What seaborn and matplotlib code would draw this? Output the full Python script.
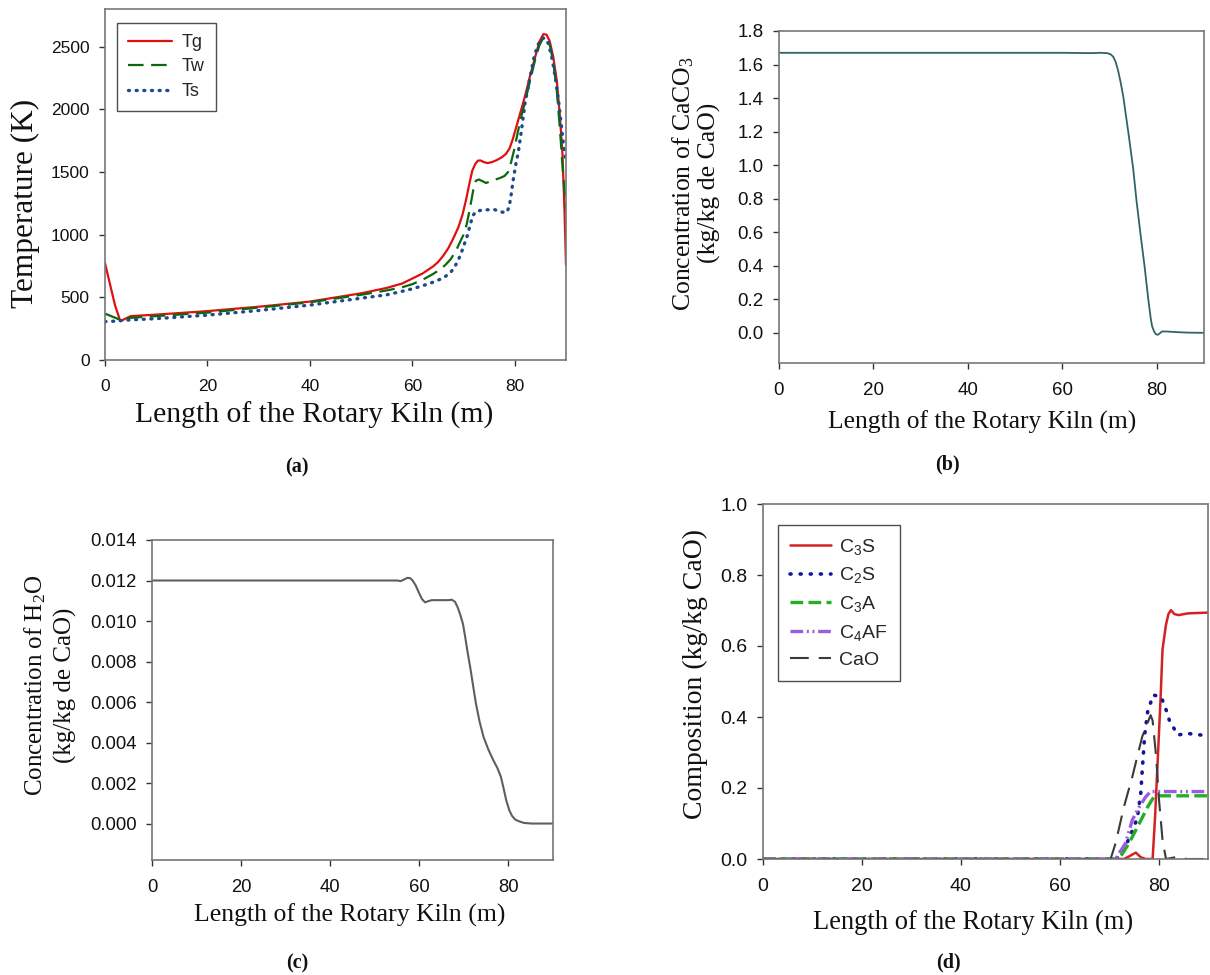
import matplotlib
matplotlib.use("Agg")
import matplotlib.pyplot as plt
import seaborn as sns
from matplotlib.ticker import FormatStrFormatter

# ---------------------------------------------------------------
# data (x = length of the kiln, m)
# ---------------------------------------------------------------
# (a) temperatures, K
tg_x = [0, 1, 2, 3, 4, 5, 10, 20, 30, 40, 50, 55, 58, 60, 62, 64, 65, 66, 67,
        68, 69, 69.8, 70.5, 71.1, 71.7, 72.3, 72.8, 73.3, 74, 74.7, 75.5, 76.5,
        77.5, 78.3, 79, 79.6, 80.3, 81, 82, 83, 84, 84.8, 85.6, 86.2, 86.8,
        87.5, 88.2, 88.8, 89.3, 89.7, 90]
tg_y = [773, 600, 430, 310, 330, 350, 362, 390, 425, 466, 532, 575, 610, 650,
        690, 745, 780, 830, 890, 970, 1060, 1160, 1280, 1400, 1510, 1565, 1590,
        1592, 1578, 1571, 1578, 1595, 1618, 1645, 1690, 1760, 1860, 1960, 2105,
        2270, 2420, 2540, 2600, 2595, 2545, 2420, 2230, 1950, 1650, 1200, 760]

tw_x = [0, 1.5, 3, 4.5, 10, 20, 30, 40, 50, 55, 58, 60, 62, 64, 65.5, 66.5,
        67.5, 68.5, 69.3, 70, 70.6, 71.1, 71.6, 72.0, 72.4, 73, 73.6, 74.4,
        75.5, 77, 78, 78.7, 79.3, 79.9, 80.5, 81.2, 82, 83, 84, 84.8, 85.5,
        86.2, 86.8, 87.5, 88.2, 88.8, 89.4, 90]
tw_y = [370, 345, 320, 335, 350, 378, 418, 460, 520, 555, 580, 605, 640, 685,
        725, 760, 805, 870, 940, 1000, 1080, 1180, 1290, 1380, 1430, 1440, 1428,
        1412, 1430, 1450, 1468, 1500, 1580, 1680, 1800, 1930, 2060, 2230, 2400,
        2510, 2565, 2570, 2520, 2380, 2150, 1850, 1500, 1200]

ts_x = [0, 2, 4, 10, 20, 30, 40, 50, 55, 58, 60, 62, 64, 65.5, 66.5, 67.5,
        68.3, 69, 69.6, 70.2, 70.8, 71.3, 71.8, 72.4, 73.5, 74.5, 76, 77.5,
        78.4, 78.9, 79.3, 79.7, 80.2, 80.7, 81.3, 82, 83, 83.8, 84.6, 85.4, 86,
        86.6, 87.3, 88, 88.6, 89.2, 89.6, 90]
ts_y = [306, 310, 318, 330, 358, 395, 438, 493, 520, 548, 568, 592, 620, 645,
        668, 700, 745, 800, 860, 930, 1000, 1080, 1150, 1185, 1195, 1198, 1200,
        1180, 1176, 1220, 1320, 1438, 1560, 1660, 1830, 2050, 2260, 2423, 2520,
        2569, 2565, 2520, 2400, 2230, 2050, 1830, 1690, 1580]

# (b) CaCO3, kg/kg CaO
caco3_x = [0, 10, 20, 30, 40, 50, 60, 66, 68, 69.5, 70.3, 70.8, 71.3, 71.8,
           72.3, 72.9, 73.5, 74.1, 75, 75.7, 76.5, 77.4, 78.2, 78.7, 79.0, 79.4,
           79.8, 80.2, 80.6, 81.1, 82, 83.1, 85, 87, 90]
caco3_y = [1.67, 1.67, 1.67, 1.67, 1.67, 1.67, 1.67, 1.668, 1.67, 1.668, 1.66,
           1.645, 1.615, 1.565, 1.50, 1.41, 1.29, 1.17, 0.98, 0.79, 0.60, 0.40,
           0.20, 0.09, 0.04, 0.01, -0.008, -0.012, -0.004, 0.008, 0.008, 0.006,
           0.003, 0.001, 0.0]

# (c) H2O, kg/kg CaO
h2o_x = [0, 10, 20, 30, 40, 50, 55, 55.8, 56.6, 57.3, 57.9, 58.5, 59.2, 59.9,
         60.6, 61.3, 62, 62.8, 64, 66.5, 67.3, 68, 68.6, 69.2, 69.8, 70.3, 70.8,
         71.4, 72, 72.7, 73.5, 74.4, 75.5, 76.6, 77.5, 78.3, 78.9, 79.5, 80.2,
         80.8, 81.5, 82.5, 83.5, 85.2, 90]
h2o_y = [0.0120, 0.0120, 0.0120, 0.0120, 0.0120, 0.0120, 0.01200, 0.01197,
         0.01205, 0.01213, 0.01212, 0.01200, 0.01175, 0.01140, 0.01108,
         0.01092, 0.01098, 0.01103, 0.01103, 0.01103, 0.01105, 0.01095,
         0.01068, 0.01030, 0.00985, 0.00920, 0.00850, 0.00774, 0.00690,
         0.00593, 0.00505, 0.00428, 0.00365, 0.00313, 0.00275, 0.00231,
         0.00175, 0.00115, 0.00065, 0.00038, 0.00020, 0.00010, 0.00003, 0.0,
         0.0]

# (d) clinker composition, kg/kg CaO
c3s_x = [0, 73, 74, 75.4, 76.4, 77.4, 78.8, 79.3, 79.8, 80.4, 80.8, 81.5, 82.0,
         82.5, 83.2, 84.0, 86, 90]
c3s_y = [0, 0, 0.007, 0.018, 0.005, 0, 0, 0.12, 0.27, 0.45, 0.59, 0.66, 0.69,
         0.701, 0.69, 0.687, 0.692, 0.694]
c2s_x = [0, 71.5, 73.3, 74.7, 75.7, 76.4, 76.7, 77.2, 77.8, 78.9, 80.5, 81.3,
         82.2, 83.9, 85.6, 90]
c2s_y = [0, 0, 0.035, 0.08, 0.115, 0.185, 0.25, 0.35, 0.415, 0.462, 0.457,
         0.43, 0.39, 0.349, 0.354, 0.347]
c3a_x = [0, 72, 74, 76.1, 77.8, 79.1, 80.1, 85, 90]
c3a_y = [0, 0, 0.044, 0.10, 0.147, 0.176, 0.178, 0.178, 0.178]
c4af_x = [0, 71.3, 73.3, 74.7, 76.1, 77.4, 78.4, 80, 85, 90]
c4af_y = [0, 0, 0.044, 0.11, 0.147, 0.175, 0.19, 0.19, 0.19, 0.19]
cao_x = [0, 70.3, 71.3, 73.0, 74.7, 76.7, 78.4, 78.8, 79.5, 80.1, 80.8, 81.5,
         84.2, 85.6, 90]
cao_y = [0, 0, 0.044, 0.147, 0.232, 0.345, 0.405, 0.39, 0.29, 0.166, 0.054, 0,
         0.007, 0, 0]

# ---------------------------------------------------------------
sns.set_theme(style="white")
plt.rcParams["font.family"] = ["Liberation Sans", "DejaVu Sans"]
SERIF = ["Liberation Serif", "DejaVu Serif"]

W, H = 1210, 975
fig = plt.figure(figsize=(W / 100, H / 100), dpi=100)
fig.patch.set_facecolor("white")


def box(l, r, t, b):
    return [l / W, 1 - b / H, (r - l) / W, (b - t) / H]


def style_axes(ax, tick_size):
    for s in ax.spines.values():
        s.set_color("#777777")
        s.set_linewidth(1.2)
    ax.tick_params(axis="both", which="both", direction="out", length=4,
                   width=1, color="#333333", labelsize=tick_size,
                   labelcolor="#111111", bottom=True, left=True,
                   top=False, right=False)
    ax.tick_params(axis="x", pad=10)
    ax.tick_params(axis="y", pad=7)
    ax.set_xlim(0, 90)
    ax.set_xticks([0, 20, 40, 60, 80])
    ax.set_xlabel("")
    ax.set_ylabel("")
    ax.grid(False)


def txt(x, y, s, size, rot=0, bold=False, ls=1.2):
    fig.text(x / W, 1 - y / H, s, ha="center", va="center", rotation=rot,
             fontsize=size, family=SERIF, fontweight="bold" if bold else "normal",
             linespacing=ls, multialignment="center", color="#111111")


def boxed_legend(ax, anchor, size, hl, tp, sp):
    leg = ax.legend(loc="upper left", bbox_to_anchor=anchor, borderaxespad=0,
                    fontsize=size, frameon=True, fancybox=False,
                    handlelength=hl, handletextpad=tp, labelspacing=sp,
                    borderpad=0.6)
    leg.get_frame().set_edgecolor("#222222")
    leg.get_frame().set_linewidth(1.0)


xlab = "Length of the Rotary Kiln (m)"

# --- (a) temperature profiles ---
ax_a = fig.add_axes(box(105, 566, 9, 360))
sns.lineplot(x=tg_x, y=tg_y, ax=ax_a, color="#e01010", linewidth=1.6, label="Tg")
sns.lineplot(x=tw_x, y=tw_y, ax=ax_a, color="#0a6a0a", linewidth=1.6,
             linestyle=(0, (7, 3.4)), label="Tw")
sns.lineplot(x=ts_x, y=ts_y, ax=ax_a, color="#1d4a8a", linewidth=2.4,
             linestyle=(0, (0.3, 2.0)), dash_capstyle="round", label="Ts")
style_axes(ax_a, 12.5)
ax_a.set_ylim(0, 2800)
ax_a.set_yticks([0, 500, 1000, 1500, 2000, 2500])
boxed_legend(ax_a, (0.026, 0.96), 13, 2.45, 0.55, 0.42)
txt(25, 203, "Temperature (K)", 22.5, rot=90)
txt(314, 415, xlab, 21.3)
txt(297, 467, "(a)", 14.5, bold=True)

# --- (b) CaCO3 ---
ax_b = fig.add_axes(box(779, 1204, 31, 363))
sns.lineplot(x=caco3_x, y=caco3_y, ax=ax_b, color="#2f6466", linewidth=1.3)
style_axes(ax_b, 13.5)
ax_b.set_ylim(-0.18, 1.8)
ax_b.set_yticks([0, 0.2, 0.4, 0.6, 0.8, 1.0, 1.2, 1.4, 1.6, 1.8])
ax_b.yaxis.set_major_formatter(FormatStrFormatter("%.1f"))
txt(696, 183, "Concentration of CaCO$\\mathregular{_3}$\n(kg/kg de CaO)", 18.5,
    rot=90, ls=1.1)
txt(982, 422, xlab, 18.4)
txt(947, 464, "(b)", 14.5, bold=True)

# --- (c) H2O ---
ax_c = fig.add_axes(box(152, 553, 540, 860))
sns.lineplot(x=h2o_x, y=h2o_y, ax=ax_c, color="#5e5e5e", linewidth=1.5)
style_axes(ax_c, 13.3)
ax_c.set_ylim(-0.0018, 0.014)
ax_c.set_yticks([0, 0.002, 0.004, 0.006, 0.008, 0.010, 0.012, 0.014])
ax_c.yaxis.set_major_formatter(FormatStrFormatter("%.3f"))
txt(50, 685, "Concentration of H$\\mathregular{_2}$O\n(kg/kg de CaO)", 18,
    rot=90, ls=1.35)
txt(350, 915, xlab, 18.5)
txt(297, 963, "(c)", 14.5, bold=True)

# --- (d) composition ---
ax_d = fig.add_axes(box(763, 1208, 504, 859))
sns.lineplot(x=c3s_x, y=c3s_y, ax=ax_d, color="#d42222", linewidth=1.8,
             label="C$\\mathregular{_3}$S")
sns.lineplot(x=c2s_x, y=c2s_y, ax=ax_d, color="#15159a", linewidth=2.6,
             linestyle=(0, (0.3, 2.5)), dash_capstyle="round",
             label="C$\\mathregular{_2}$S")
sns.lineplot(x=c3a_x, y=c3a_y, ax=ax_d, color="#22b022", linewidth=2.4,
             linestyle=(0, (3.8, 1.6)), label="C$\\mathregular{_3}$A")
sns.lineplot(x=c4af_x, y=c4af_y, ax=ax_d, color="#9a5ce0", linewidth=2.4,
             linestyle=(0, (3.8, 1.1, 0.6, 1.1, 0.6, 1.1)),
             label="C$\\mathregular{_4}$AF")
sns.lineplot(x=cao_x, y=cao_y, ax=ax_d, color="#3a3a3a", linewidth=1.5,
             linestyle=(0, (9, 4.8)), label="CaO")
style_axes(ax_d, 14)
ax_d.set_ylim(0, 1.0)
ax_d.set_yticks([0, 0.2, 0.4, 0.6, 0.8, 1.0])
ax_d.yaxis.set_major_formatter(FormatStrFormatter("%.1f"))
boxed_legend(ax_d, (0.034, 0.941), 14, 2.1, 0.45, 0.45)
txt(695, 674, "Composition (kg/kg CaO)", 20, rot=90)
txt(973, 922, xlab, 19.1)
txt(948, 962, "(d)", 14.5, bold=True)

fig.savefig("out.png", dpi=100, facecolor="white")
